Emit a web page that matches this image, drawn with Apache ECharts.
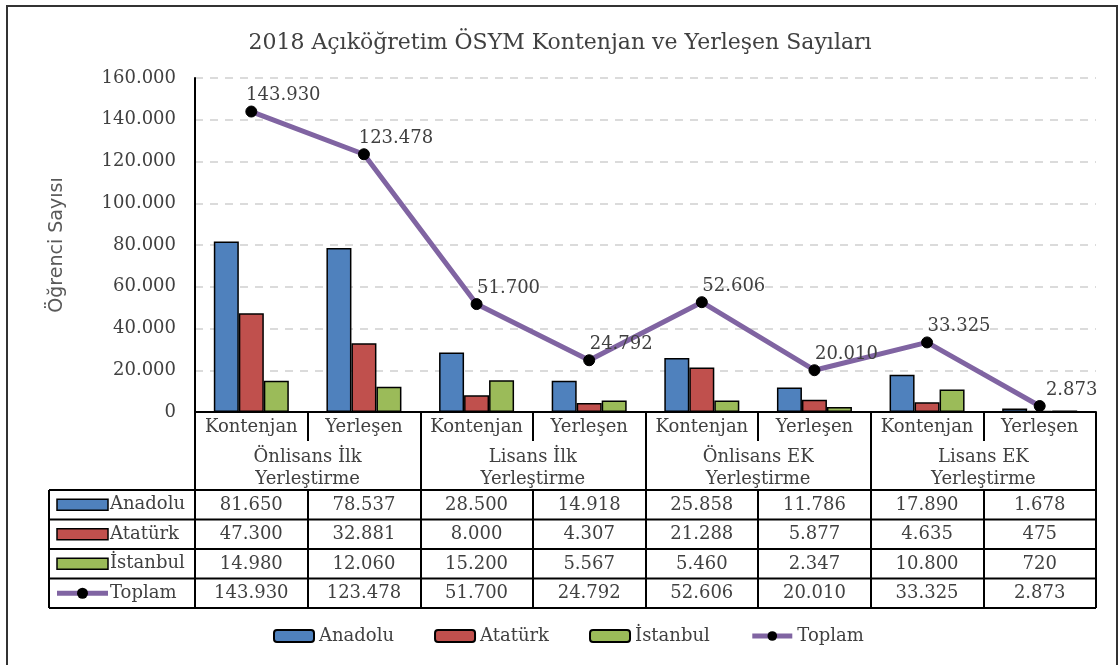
<!DOCTYPE html>
<html>
<head>
<meta charset="utf-8">
<script src="https://cdn.jsdelivr.net/npm/echarts@6/dist/echarts.min.js"></script>
<style>
  html, body { margin: 0; padding: 0; background: #fff; }
  #main { width: 1120px; height: 665px; }
</style>
</head>
<body>
<div id="main"></div>
<script>
// veriler
var kategoriler = ['Kontenjan', 'Yerleşen', 'Kontenjan', 'Yerleşen', 'Kontenjan', 'Yerleşen', 'Kontenjan', 'Yerleşen'];
var gruplar = ['Önlisans İlk\nYerleştirme', 'Lisans İlk\nYerleştirme', 'Önlisans EK\nYerleştirme', 'Lisans EK\nYerleştirme'];
var anadolu = [81650, 78537, 28500, 14918, 25858, 11786, 17890, 1678];
var ataturk = [47300, 32881, 8000, 4307, 21288, 5877, 4635, 475];
var istanbul = [14980, 12060, 15200, 5567, 5460, 2347, 10800, 720];
var toplam = [143930, 123478, 51700, 24792, 52606, 20010, 33325, 2873];
var yTicks = [0, 20000, 40000, 60000, 80000, 100000, 120000, 140000, 160000];

var seriler = [
    { name: 'Anadolu', data: anadolu, color: '#4f81bd' },
    { name: 'Atatürk', data: ataturk, color: '#c0504d' },
    { name: 'İstanbul', data: istanbul, color: '#9bbb59' },
    { name: 'Toplam', data: toplam, color: '#8064a2' }
];

function fmt(v) {
    return String(v).replace(/\B(?=(\d{3})+(?!\d))/g, '.');
}

var SERIF = 'DejaVu Serif';
var TXT = '#404040';

// yerleşim
var gLeft = 195, gRight = 1096, gTop = 78, gBottom = 412;
var row1H = 29, headH = 78, rowH = 29.5, tableLeft = 49;

var chart = echarts.init(document.getElementById('main'));

var xAxes = [{
    type: 'category',
    data: kategoriler,
    position: 'bottom',
    axisLine: { show: true, lineStyle: { color: '#000', width: 2 } },
    axisTick: { show: true, interval: 0, length: row1H, lineStyle: { color: '#000', width: 2 } },
    axisLabel: { interval: 0, margin: 6, fontFamily: SERIF, fontSize: 18, color: TXT }
}, {
    type: 'category',
    data: gruplar,
    position: 'bottom',
    axisLine: { show: false },
    axisTick: { show: true, interval: 0, length: headH, lineStyle: { color: '#000', width: 2 } },
    axisLabel: { interval: 0, margin: 34, fontFamily: SERIF, fontSize: 18, color: TXT, lineHeight: 22 }
}];

// tablo satırları: her seri için bir kategori ekseni
seriler.forEach(function(s, i) {
    xAxes.push({
        type: 'category',
        data: s.data.map(fmt),
        position: 'bottom',
        offset: headH + rowH * i,
        axisLine: { show: false },
        axisTick: { show: true, interval: 0, length: rowH, lineStyle: { color: '#000', width: 2 } },
        axisLabel: { interval: 0, margin: 6, fontFamily: SERIF, fontSize: 18, color: TXT }
    });
});

var series = seriler.slice(0, 3).map(function(s) {
    return {
        name: s.name,
        type: 'bar',
        xAxisIndex: 0,
        data: s.data,
        barWidth: 25,
        barGap: '0%',
        itemStyle: { color: s.color, borderColor: '#000', borderWidth: 1.5 }
    };
});
series.push({
    name: 'Toplam',
    type: 'line',
    xAxisIndex: 0,
    data: toplam,
    symbol: 'circle',
    symbolSize: 11,
    z: 5,
    lineStyle: { color: '#8064a2', width: 5 },
    itemStyle: { color: '#000', borderColor: '#000' },
    label: {
        show: true,
        position: 'top',
        distance: 6,
        offset: [32, 5],
        formatter: function(p) { return fmt(p.value); },
        fontFamily: SERIF,
        fontSize: 18,
        color: TXT
    }
});

// tablo çizgileri ve sol sütun
var graphics = [{
    type: 'rect',
    shape: { x: 7, y: 6, width: 1110, height: 680 },
    style: { fill: 'none', stroke: '#333', lineWidth: 2 }
}];
var tableTop = gBottom + headH;
for (var r = 0; r <= seriler.length; r++) {
    graphics.push({
        type: 'line',
        shape: { x1: tableLeft, y1: tableTop + rowH * r, x2: gRight, y2: tableTop + rowH * r },
        style: { stroke: '#000', lineWidth: 2 }
    });
}
graphics.push({
    type: 'line',
    shape: { x1: tableLeft, y1: tableTop, x2: tableLeft, y2: tableTop + rowH * seriler.length },
    style: { stroke: '#000', lineWidth: 2 }
});
seriler.forEach(function(s, i) {
    var cy = tableTop + rowH * i + rowH / 2;
    if (s.name === 'Toplam') {
        graphics.push({
            type: 'line',
            shape: { x1: 57, y1: cy, x2: 108, y2: cy },
            style: { stroke: s.color, lineWidth: 5 }
        });
        graphics.push({
            type: 'circle',
            shape: { cx: 82.5, cy: cy, r: 5.5 },
            style: { fill: '#000' }
        });
    } else {
        graphics.push({
            type: 'rect',
            shape: { x: 57, y: cy - 5.5, width: 51, height: 11 },
            style: { fill: s.color, stroke: '#000', lineWidth: 1.5 }
        });
    }
    graphics.push({
        type: 'text',
        x: 110,
        y: cy,
        style: { text: s.name, fontFamily: SERIF, fontSize: 18, fill: TXT, verticalAlign: 'middle', align: 'left' }
    });
});

var option = {
    backgroundColor: '#fff',
    animation: false,
    title: {
        text: '2018 Açıköğretim ÖSYM Kontenjan ve Yerleşen Sayıları',
        left: 'center',
        top: 27,
        textStyle: { fontFamily: SERIF, fontSize: 22, fontWeight: 'normal', color: TXT }
    },
    legend: {
        data: [
            { name: 'Anadolu' },
            { name: 'Atatürk' },
            { name: 'İstanbul' },
            { name: 'Toplam', lineStyle: { width: 5 } }
        ],
        bottom: 15,
        left: 268,
        itemWidth: 40,
        itemHeight: 12,
        itemGap: 40,
        textStyle: { fontFamily: SERIF, fontSize: 18, color: TXT }
    },
    grid: { left: gLeft, right: 1120 - gRight, top: gTop, bottom: 665 - gBottom, containLabel: false },
    xAxis: xAxes,
    yAxis: {
        type: 'value',
        min: yTicks[0],
        max: yTicks[yTicks.length - 1],
        interval: yTicks[1] - yTicks[0],
        name: 'Öğrenci Sayısı',
        nameLocation: 'middle',
        nameGap: 128,
        nameTextStyle: { fontFamily: 'DejaVu Sans', fontSize: 19, color: '#595959' },
        axisLine: { show: true, lineStyle: { color: '#000', width: 2 } },
        axisTick: { show: false },
        axisLabel: { margin: 19, fontFamily: SERIF, fontSize: 18, color: TXT, formatter: fmt },
        splitLine: { show: true, lineStyle: { color: '#d0d0d0', width: 1.5, type: [8, 7] } }
    },
    series: series,
    graphic: graphics
};

chart.setOption(option);
</script>
</body>
</html>
